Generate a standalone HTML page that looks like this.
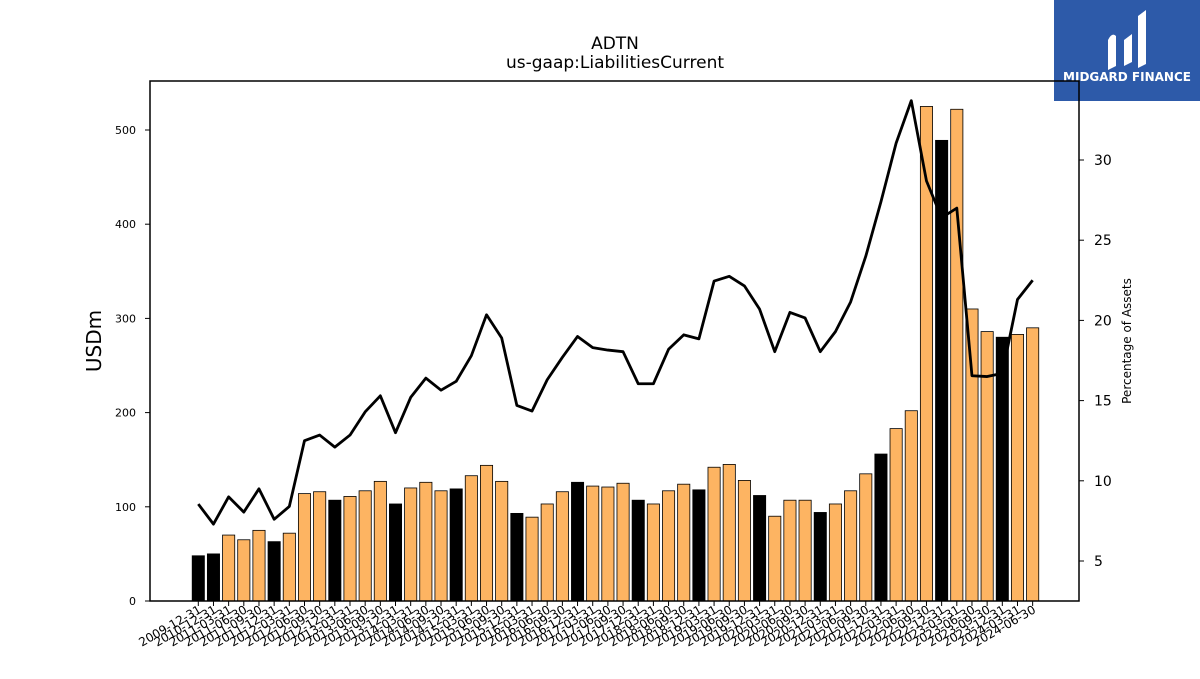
<!DOCTYPE html>
<html><head><meta charset="utf-8"><style>
body{margin:0;background:#fff;font-family:"DejaVu Sans","Liberation Sans",sans-serif}
</style></head><body>
<svg width="1200" height="675" xmlns="http://www.w3.org/2000/svg" id="svg">
<rect width="1200" height="675" fill="#fff"/>
<text x="615" y="49" text-anchor="middle" font-size="17">ADTN</text>
<text x="615" y="68" text-anchor="middle" font-size="17">us-gaap:LiabilitiesCurrent</text>
<g>
<rect x="1054" y="0" width="146" height="101" fill="#2d5aa9"/>
<path d="M1108 70 L1108 40 Q1112 32 1116 36 L1116 66 Z M1124 66 L1124 40 L1132 34 L1132 62 Z M1138 68 L1138 16 L1146 10 L1146 64 Z" fill="#fff"/>
<text x="1127" y="81" text-anchor="middle" font-size="12" font-weight="bold" fill="#fff">MIDGARD FINANCE</text>
</g>
<g id="plot"></g>
<rect x="150" y="81" width="929" height="520" fill="none" stroke="#000" stroke-width="1.5"/>
<text transform="translate(101,341) rotate(-90)" text-anchor="middle" font-size="20">USDm</text>
<text transform="translate(1131,341) rotate(-90)" text-anchor="middle" font-size="12">Percentage of Assets</text>
</svg>
<script>
const categories=["2009-12-31","2010-12-31","2011-03-31","2011-06-30","2011-09-30","2011-12-31","2012-03-31","2012-06-30","2012-09-30","2012-12-31","2013-03-31","2013-06-30","2013-09-30","2013-12-31","2014-03-31","2014-06-30","2014-09-30","2014-12-31","2015-03-31","2015-06-30","2015-09-30","2015-12-31","2016-03-31","2016-06-30","2016-09-30","2016-12-31","2017-03-31","2017-06-30","2017-09-30","2017-12-31","2018-03-31","2018-06-30","2018-09-30","2018-12-31","2019-03-31","2019-06-30","2019-09-30","2019-12-31","2020-03-31","2020-06-30","2020-09-30","2020-12-31","2021-03-31","2021-06-30","2021-09-30","2021-12-31","2022-03-31","2022-06-30","2022-09-30","2022-12-31","2023-03-31","2023-06-30","2023-09-30","2023-12-31","2024-03-31","2024-06-30"];
const liabilities=[48,50,70,65,75,63,72,114,116,107,111,117,127,103,120,126,117,119,133,144,127,93,89,103,116,126,122,121,125,107,103,117,124,118,142,145,128,112,90,107,107,94,103,117,135,156,183,202,525,489,522,310,286,280,283,290];
const pctAssets=[8.55,7.3,9.0,8.05,9.5,7.6,8.4,12.5,12.85,12.1,12.85,14.3,15.3,13.0,15.2,16.4,15.65,16.2,17.8,20.35,18.9,14.7,14.35,16.3,17.7,19.0,18.3,18.15,18.05,16.05,16.05,18.2,19.1,18.85,22.45,22.75,22.15,20.7,18.05,20.5,20.15,18.05,19.3,21.15,24.0,27.4,31.05,33.7,28.7,26.4,27.0,16.55,16.5,16.7,21.3,22.5];
const leftTicks=[0,100,200,300,400,500];
const rightTicks=[5,10,15,20,25,30];
const NS="http://www.w3.org/2000/svg";
const g=document.getElementById('plot');
const x0=198.3,step=15.17;
const xs=i=>x0+i*step;
const yL=v=>601-v*0.942;
const yR=v=>561-(v-5)*16.04;
function mk(t,a,txt){const e=document.createElementNS(NS,t);for(const k in a)e.setAttribute(k,a[k]);if(txt!==undefined)e.textContent=txt;g.appendChild(e);return e;}
liabilities.forEach((v,i)=>{
 const black=(i===0||i%4===1);
 const r=mk('rect',{x:xs(i)-6.1,y:yL(v),width:12.2,height:601-yL(v),fill:black?'#000':'#fdb462',stroke:'#000','stroke-width':0.8});
 
 
 const t=mk('line',{x1:xs(i),x2:xs(i),y1:601,y2:606,stroke:'#000'});
 
 
 const l=mk('text',{transform:`translate(${xs(i)+4},${612}) rotate(-30)`,'text-anchor':'end','font-size':'12'},categories[i]);
 
 
});
leftTicks.forEach(v=>{
 const t=mk('line',{x1:145,x2:150,y1:yL(v),y2:yL(v),stroke:'#000'});
 
 
 const l=mk('text',{x:136,y:yL(v)+4,'text-anchor':'end','font-size':'11'},v);
 
 
});
rightTicks.forEach(v=>{
 const t=mk('line',{x1:1079,x2:1084,y1:yR(v),y2:yR(v),stroke:'#000'});
 
 
 const l=mk('text',{x:1094,y:yR(v)+5,'font-size':'14'},v);
 
 
});
const p=mk('polyline',{points:pctAssets.map((v,i)=>xs(i)+','+yR(v)).join(' '),fill:'none',stroke:'#000','stroke-width':2.8,'stroke-linejoin':'round'});


</script>
</body></html>
